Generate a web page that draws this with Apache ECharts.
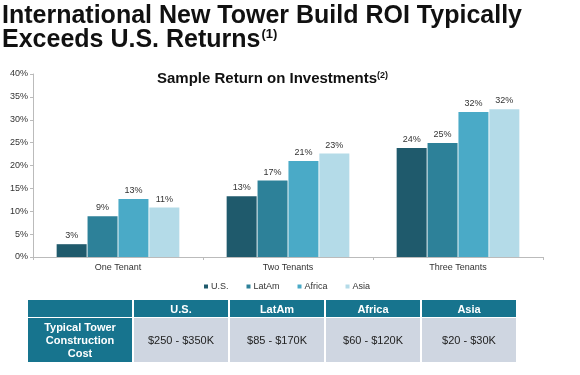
<!DOCTYPE html>
<html>
<head>
<meta charset="utf-8">
<script src="https://cdn.jsdelivr.net/npm/echarts@6/dist/echarts.min.js"></script>
<style>
  body { margin: 0; background: #fff; }
  #wrap { position: relative; width: 580px; height: 375px; }
  #main { width: 580px; height: 375px; }
  #costTable {
    position: absolute; left: 26px; top: 299px;
    border-collapse: separate; border-spacing: 2px 1px;
    font-family: "Liberation Sans", Arial, sans-serif; font-size: 11px;
  }
  #costTable th { background: #17748e; color: #fff; font-weight: bold; height: 17px; padding: 0; }
  #costTable td { background: #cfd6e1; color: #222; text-align: center; height: 44px; padding: 0; }
  #costTable td.rowhead { background: #17748e; color: #fff; font-weight: bold; line-height: 13px; }
</style>
</head>
<body>
<div id="wrap">
  <div id="main"></div>
  <table id="costTable"></table>
</div>
<script>
// 数据
var categories = ['One Tenant', 'Two Tenants', 'Three Tenants'];
var regions = ['U.S.', 'LatAm', 'Africa', 'Asia'];
var usData = [2.8, 13.3, 23.8];
var latamData = [8.9, 16.7, 24.9];
var africaData = [12.7, 21.0, 31.7];
var asiaData = [10.8, 22.6, 32.3];
var yTicks = [0, 5, 10, 15, 20, 25, 30, 35, 40];
var costLabel = 'Typical Tower<br>Construction<br>Cost';
var costs = ['$250 - $350K', '$85 - $170K', '$60 - $120K', '$20 - $30K'];

var colors = ['#1f5a6c', '#2d8199', '#4aaac7', '#b4dbe8'];

// 表格
var html = '<tr><th style="width:104px"></th>';
for (var i = 0; i < regions.length; i++) {
    html += '<th style="width:94px">' + regions[i] + '</th>';
}
html += '</tr><tr><td class="rowhead">' + costLabel + '</td>';
for (var j = 0; j < costs.length; j++) {
    html += '<td>' + costs[j] + '</td>';
}
html += '</tr>';
document.getElementById('costTable').innerHTML = html;

var myChart = echarts.init(document.getElementById('main'));

var seriesData = [usData, latamData, africaData, asiaData];
var series = [];
for (var k = 0; k < regions.length; k++) {
    series.push({
        name: regions[k],
        type: 'bar',
        data: seriesData[k],
        barWidth: 30,
        barGap: '3%',
        itemStyle: { color: colors[k] },
        label: {
            show: true,
            position: 'top',
            distance: 4,
            fontSize: 9,
            color: '#333',
            fontFamily: 'Liberation Sans',
            formatter: function (p) { return Math.round(p.value) + '%'; }
        }
    });
}

var option = {
    animation: false,
    textStyle: { fontFamily: 'Liberation Sans' },
    title: [
        {
            left: 2,
            top: 4,
            padding: 0,
            text: '{a|International New Tower Build ROI Typically}\n{a|Exceeds U.S. Returns}{s|(1)}',
            textStyle: {
                rich: {
                    a: { fontSize: 25, fontWeight: 'bold', color: '#111', fontFamily: 'Liberation Sans', lineHeight: 24 },
                    s: { fontSize: 13, fontWeight: 'bold', color: '#111', fontFamily: 'Liberation Sans', verticalAlign: 'top', lineHeight: 24, padding: [0, 0, 10, 1] }
                }
            }
        },
        {
            left: 157,
            top: 71,
            padding: 0,
            text: '{a|Sample Return on Investments}{s|(2)}',
            textStyle: {
                rich: {
                    a: { fontSize: 15, fontWeight: 'bold', color: '#111', fontFamily: 'Liberation Sans' },
                    s: { fontSize: 9, fontWeight: 'bold', color: '#111', fontFamily: 'Liberation Sans', padding: [0, 0, 7, 0] }
                }
            }
        }
    ],
    legend: {
        data: regions,
        top: 277,
        left: 199,
        icon: 'rect',
        itemWidth: 4,
        itemHeight: 4,
        itemGap: 18,
        textStyle: { fontSize: 9, color: '#333', padding: [0, 0, 0, -2] }
    },
    grid: { left: 33, right: 37, top: 74, bottom: 118 },
    xAxis: {
        type: 'category',
        data: categories,
        axisLine: { lineStyle: { color: '#bbb' } },
        axisTick: { show: true, alignWithLabel: false, length: 3, lineStyle: { color: '#bbb' } },
        axisLabel: { fontSize: 9, color: '#333', margin: 6 }
    },
    yAxis: {
        type: 'value',
        min: yTicks[0],
        max: yTicks[yTicks.length - 1],
        interval: yTicks[1] - yTicks[0],
        axisLine: { show: true, lineStyle: { color: '#bbb' } },
        axisTick: { show: true, length: 3, lineStyle: { color: '#bbb' } },
        splitLine: { show: false },
        axisLabel: { fontSize: 9, color: '#333', margin: 5, formatter: '{value}%' }
    },
    series: series
};

myChart.setOption(option);
</script>
</body>
</html>
